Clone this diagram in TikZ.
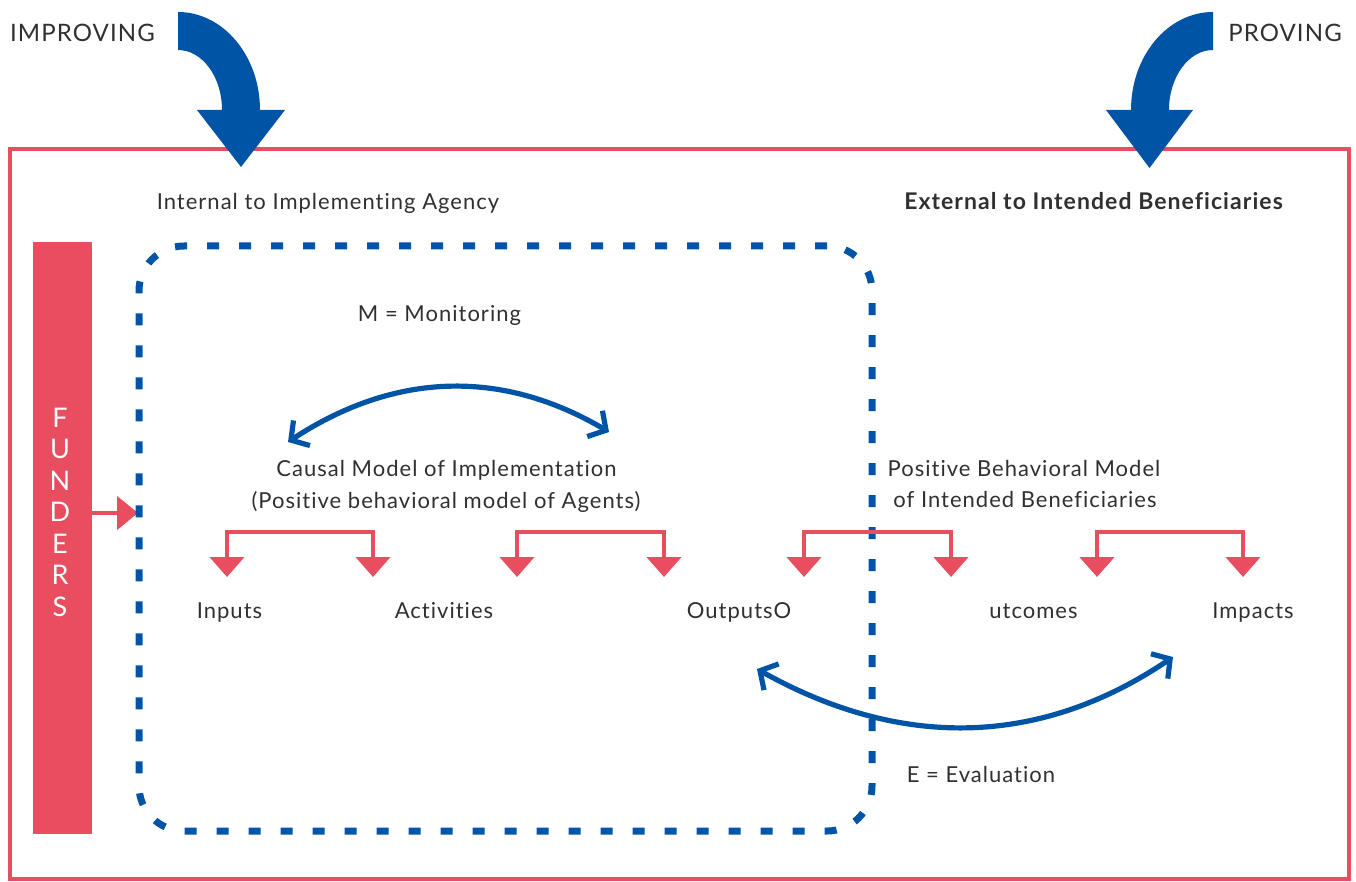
\documentclass[tikz,border=0pt]{standalone}
\usepackage{fontspec}
\setmainfont{Lato}[LetterSpace=4.6, Ligatures={NoCommon, NoRare}]
\usetikzlibrary{arrows.meta}
\definecolor{myblue}{HTML}{0054A6}
\definecolor{myred}{HTML}{E84E5F}
\definecolor{txtgray}{HTML}{303030}
\tikzset{
  txt/.style={text=txtgray, inner sep=0pt, anchor=base, font=\fontsize{11}{13}\selectfont},
  redline/.style={draw=myred, line width=2.3pt},
  bracket/.style={redline, {Triangle[length=10pt,width=17pt]}-{Triangle[length=10pt,width=17pt]}},
  bluearc/.style={draw=myblue, line width=2.6pt, {Straight Barb[length=6.5pt,width=15pt]}-{Straight Barb[length=6.5pt,width=15pt]}},
  bigarrow/.style={fill=myblue, draw=none}
}
\begin{document}
\begin{tikzpicture}[x=0.5pt,y=-0.5pt]
\useasboundingbox (0,0) rectangle (1356,882);
% frame
\node (frame) [draw=myred, line width=2.3pt, minimum width=669.5pt, minimum height=365pt, inner sep=0pt] at (679.5,514) {};
% big arrows
\path[bigarrow] (178,12) .. controls (223.3,12) and (260,55.9) .. (260,110) -- (285,110) -- (241,167) -- (197,110) -- (222,110) .. controls (222,76.9) and (202.3,50) .. (178,50) -- cycle;
\path[bigarrow] (1213,12) .. controls (1167.7,12) and (1131,55.9) .. (1131,110) -- (1106,110) -- (1149.5,168) -- (1193,110) -- (1169,110) .. controls (1169,76.9) and (1188.7,50) .. (1213,50) -- cycle;
\node[txt, font=\fontsize{12}{14}\selectfont] (improving) at (82.5,42) {IMPROVING};
\node[txt, font=\fontsize{12}{14}\selectfont] (proving) at (1285,42) {PROVING};
\node[txt] (internal) at (328,210) {Internal to Implementing Agency};
\node[txt, font=\fontsize{11.5}{13}\selectfont\bfseries] (external) at (1093.5,210) {External to Intended Beneficiaries};
% funders
\node (funders) [fill=myred, minimum width=29.5pt, minimum height=296pt, inner sep=0pt] at (62,538) {};
\node (funderstxt) [text=white, align=center, inner sep=0pt, font=\fontsize{13.5}{15.75}\selectfont] at (60,512) {F\\U\\N\\D\\E\\R\\S};
\coordinate (fa) at (138,513);
\draw[redline, -{Triangle[length=10.5pt,width=16.5pt]}] (funders.east |- fa) -- (fa);
% dashed agency box
\node (agency) [draw=myblue, line width=3.5pt, dash pattern=on 6pt off 10pt, rounded corners=22.5pt, minimum width=366.5pt, minimum height=292.5pt, inner sep=0pt] at (505.5,538.5) {};
% texts
\node[txt] (monitor) at (439.5,322) {M = Monitoring};
\node[txt] (causal1) at (446.5,477) {Causal Model of Implementation};
\node[txt] (causal2) at (446,509) {(Positive behavioral model of Agents)};
\node[txt] (pos1) at (1024,476) {Positive Behavioral Model};
\node[txt] (pos2) at (1025,508) {of Intended Beneficiaries};
\node[txt] (inputs) at (229.5,618) {Inputs};
\node[txt] (activities) at (444,618) {Activities};
\node[txt] (outputs) at (739,618) {OutputsO};
\node[txt] (outcomes) at (1033.5,618) {utcomes};
\node[txt] (impacts) at (1253,618) {Impacts};
\node[txt] (evaluation) at (981,782) {E = Evaluation};
% brackets
\coordinate (b1l) at (227,577); \coordinate (b1r) at (373,577);
\coordinate (b2l) at (517,577); \coordinate (b2r) at (664,577);
\coordinate (b3l) at (804,577); \coordinate (b3r) at (951,577);
\coordinate (b4l) at (1097,577); \coordinate (b4r) at (1243,577);
\draw[bracket] (b1l) -- ++(0,-45) -| (b1r);
\draw[bracket] (b2l) -- ++(0,-45) -| (b2r);
\draw[bracket] (b3l) -- ++(0,-45) -| (b3r);
\draw[bracket] (b4l) -- ++(0,-45) -| (b4r);
% blue arcs
\coordinate (m1) at (288,442); \coordinate (m2) at (609,432);
\draw[bluearc] (m1) .. controls (394.7,372) and (501.7,368.7) .. (m2);
\coordinate (e1) at (757,669); \coordinate (e2) at (1173,657);
\draw[bluearc] (e1) .. controls (902.3,750.3) and (1041,746.3) .. (e2);
\end{tikzpicture}
\end{document}
